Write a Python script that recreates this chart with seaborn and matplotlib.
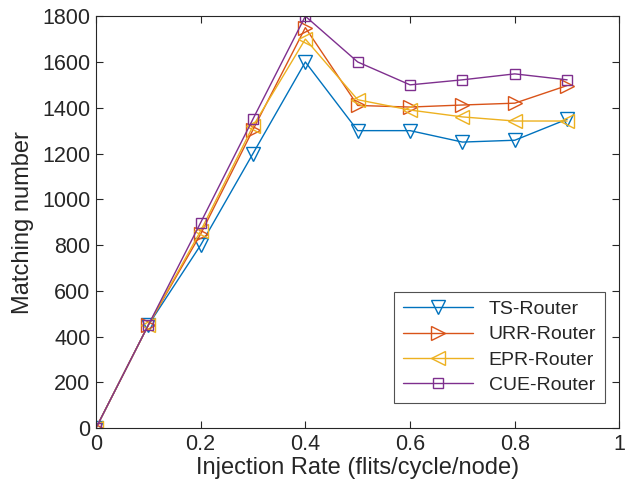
import pandas as pd
import matplotlib
matplotlib.use("Agg")
import matplotlib.pyplot as plt
import seaborn as sns

# data
rates = [0, 0.1, 0.2, 0.3, 0.4, 0.5, 0.6, 0.7, 0.8, 0.9]
ts_router = [0, 450, 800, 1200, 1600, 1300, 1300, 1250, 1258, 1350]
urr_router = [0, 450, 848, 1304, 1750, 1410, 1403, 1412, 1420, 1497]
epr_router = [0, 450, 862, 1320, 1700, 1435, 1390, 1360, 1342, 1342]
cue_router = [0, 450, 898, 1351, 1800, 1600, 1500, 1522, 1548, 1522]

names = ["TS-Router", "URR-Router", "EPR-Router", "CUE-Router"]
series = [ts_router, urr_router, epr_router, cue_router]
colors = ["#0072BD", "#D95319", "#EDB120", "#7E2F8E"]
markers = ["v", ">", "<", "s"]

sns.set_style("ticks")
plt.rcParams['font.family'] = ['Liberation Sans', 'DejaVu Sans']

fig = plt.figure(figsize=(6.27, 4.91), dpi=100)
ax = fig.add_axes([0.153, 0.128, 0.835, 0.839])

for name, vals, c, m in zip(names, series, colors, markers):
    df = pd.DataFrame({"rate": rates, "match": vals})
    sns.lineplot(data=df, x="rate", y="match", ax=ax, color=c, marker=m,
                 markersize=10 if m != "s" else 7, markerfacecolor="none",
                 markeredgecolor=c, markeredgewidth=1.0, linewidth=1.0,
                 label=name)

ax.set_xlim(0, 1)
ax.set_ylim(0, 1800)
ax.set_xticks([0, 0.2, 0.4, 0.6, 0.8, 1])
ax.set_xticklabels(["0", "0.2", "0.4", "0.6", "0.8", "1"])
ax.set_yticks(range(0, 1801, 200))
ax.tick_params(direction="in", top=True, right=True, labelsize=15.5,
               colors="#262626", length=5, width=0.8, pad=4)
for s in ax.spines.values():
    s.set_color("#262626")
    s.set_linewidth(0.8)
    s.set_visible(True)

ax.set_xlabel("Injection Rate (flits/cycle/node)", fontsize=17, color="#262626",
              labelpad=2)
ax.set_ylabel("Matching number", fontsize=17, color="#262626", labelpad=6)

leg = ax.legend(loc="lower right", bbox_to_anchor=(0.972, 0.061), fontsize=14,
                frameon=True, fancybox=False, edgecolor="#262626",
                handlelength=3.6, borderpad=0.45, labelspacing=0.4,
                borderaxespad=0)
leg.get_frame().set_linewidth(0.8)

fig.savefig("out.png", dpi=100)
